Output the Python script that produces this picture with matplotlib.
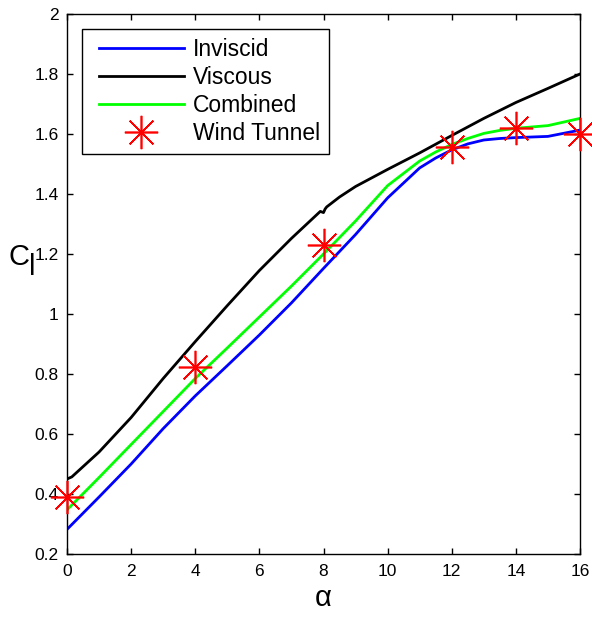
import matplotlib.pyplot as plt
from matplotlib.legend_handler import HandlerLine2D

plt.rcParams['font.family'] = ['Liberation Sans', 'DejaVu Sans']

# angle of attack (deg) and lift coefficients
alpha = [0, 1, 2, 3, 4, 5, 6, 7, 8, 9, 10, 11, 11.5, 12, 12.5, 13, 13.5, 14, 15, 16]
cl_inviscid = [0.282, 0.39, 0.5, 0.618, 0.727, 0.828, 0.93, 1.037, 1.152, 1.265, 1.387,
               1.487, 1.52, 1.547, 1.567, 1.58, 1.585, 1.588, 1.592, 1.613]
cl_combined = [0.347, 0.455, 0.565, 0.675, 0.785, 0.887, 0.99, 1.093, 1.2, 1.31, 1.428,
               1.51, 1.54, 1.565, 1.585, 1.602, 1.612, 1.619, 1.628, 1.652]

alpha_visc = [0, 0.15, 1, 2, 3, 4, 5, 6, 7, 7.9, 8.0, 8.05, 8.1, 8.5, 9, 10, 11, 12, 13, 14, 15, 16]
cl_viscous = [0.45, 0.457, 0.54, 0.655, 0.785, 0.908, 1.028, 1.145, 1.252, 1.342, 1.338, 1.35,
              1.357, 1.39, 1.425, 1.482, 1.537, 1.595, 1.652, 1.705, 1.752, 1.80]

alpha_wt = [0, 4, 8, 12, 14, 16]
cl_wt = [0.39, 0.822, 1.23, 1.558, 1.619, 1.60]

fig = plt.figure(figsize=(5.92, 6.17), dpi=100)
ax = fig.add_axes([67/592, 1 - 554/617, 513/592, 540/617])

ax.plot(alpha, cl_inviscid, color='#0000ff', lw=2, label='Inviscid')
ax.plot(alpha_visc, cl_viscous, color='k', lw=2, label='Viscous')
ax.plot(alpha, cl_combined, color='#00ff00', lw=2, label='Combined')
ax.plot(alpha_wt, cl_wt, ls='none', marker=(8, 2, 0), ms=24, mew=1.2,
        color='#ff0000', label='Wind Tunnel', clip_on=False, zorder=5)

ax.set_xlim(0, 16)
ax.set_ylim(0.2, 2)
ax.set_xticks(range(0, 17, 2))
ax.set_yticks([0.2, 0.4, 0.6, 0.8, 1, 1.2, 1.4, 1.6, 1.8, 2])
ax.set_yticklabels(['0.2', '0.4', '0.6', '0.8', '1', '1.2', '1.4', '1.6', '1.8', '2'])
ax.tick_params(direction='in', top=True, right=True, length=4, width=1,
               labelsize=12.5)
ax.tick_params(axis='x', pad=7.5)
ax.tick_params(axis='y', pad=6)
for s in ax.spines.values():
    s.set_linewidth(1)

ax.set_xlabel('α', fontsize=21, labelpad=3)
fig.text(8/592, 1 - 257/617, 'C', fontsize=21, ha='left', va='center')
fig.text(29/592, 1 - 267/617, 'l', fontsize=21, ha='left', va='center')

hl = HandlerLine2D(xpad=0.35)
leg = ax.legend(loc='upper left', bbox_to_anchor=(0.029, 0.972), borderaxespad=0,
                fontsize=16.5, handlelength=4.05, handletextpad=0.39,
                labelspacing=0.21, borderpad=0.4, fancybox=False,
                edgecolor='k', framealpha=1,
                handler_map={plt.Line2D: hl})
leg.get_frame().set_linewidth(1)

fig.savefig('out.png', dpi=100)
